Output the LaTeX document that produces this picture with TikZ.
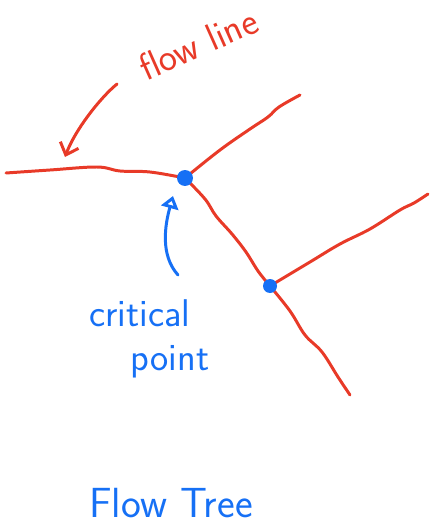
\documentclass[tikz,border=0pt]{standalone}
\usepackage{tikz}
\usetikzlibrary{arrows.meta,calc}
\definecolor{flowred}{RGB}{232,58,40}
\definecolor{critblue}{RGB}{22,112,245}

\begin{document}
\begin{tikzpicture}[x=0.02cm, y=-0.02cm,
        flowline/.style={flowred, line width=1.7pt, line cap=round, line join=round},
        critdot/.style={circle, fill=critblue, inner sep=0pt, minimum size=0.32cm},
        hand/.style={critblue, font=\sffamily\fontsize{22}{26}\selectfont}]
        \useasboundingbox (0,0) rectangle (433,527);
        % Positions of the critical points and free ends
        \coordinate (cp1) at (185,178);
        \coordinate (cp2) at (270,286);
        \coordinate (westend) at (6,173);
        \coordinate (northend) at (300,95);
        \coordinate (eastend) at (428,194);
        \coordinate (southend) at (350,395);
        % Draw the flow lines of the tree
        \draw[flowline] plot [smooth, tension=0.6] coordinates {(westend) (50,170) (97,167) (120,171) (150,172) (cp1)};
        \draw[flowline] plot [smooth, tension=0.6] coordinates {(cp1) (220,150) (250,129) (268,117) (279,107) (northend)};
        \draw[flowline] plot [smooth, tension=0.6] coordinates {(cp1) (205,199) (216,216) (232,234) (246,252) (258,271) (cp2)};
        \draw[flowline] plot [smooth, tension=0.6] coordinates {(cp2) (310,262) (340,244) (370,229) (400,210) (414,203) (eastend)};
        \draw[flowline] plot [smooth, tension=0.6] coordinates {(cp2) (290,311) (305,335) (322,352) (338,377) (southend)};
        % Draw the critical points on top
        \node[critdot] (dot1) at (cp1) {};
        \node[critdot, minimum size=0.28cm] (dot2) at (cp2) {};
        % Labels
        \node[flowred, font=\sffamily\fontsize{22}{26}\selectfont, rotate=24] (flowlbl) at (198,44) {flow line};
        \node[hand] (critlbl) at (140,313) {critical};
        \node[hand] (pointlbl) at (170,362) {point};
        \node[hand, font=\sffamily\fontsize{24}{28}\selectfont] (title) at (171,503) {Flow Tree};
        % Pointer arrows
        \coordinate (redtail) at (117,84);
        \coordinate (redtip) at (65,157);
        \draw[flowline, -{Straight Barb[length=6pt, width=11pt]}] (redtail) .. controls (100,98) and (75,130) .. (redtip);
        \coordinate (bluetail) at (178,275);
        \coordinate (bluetip) at (173,196);
        \draw[critblue, line width=1.7pt, line cap=round, -{Triangle[open, length=7pt, width=10pt]}] (bluetail) .. controls (160,255) and (165,225) .. (bluetip);
    \end{tikzpicture}
\end{document}
